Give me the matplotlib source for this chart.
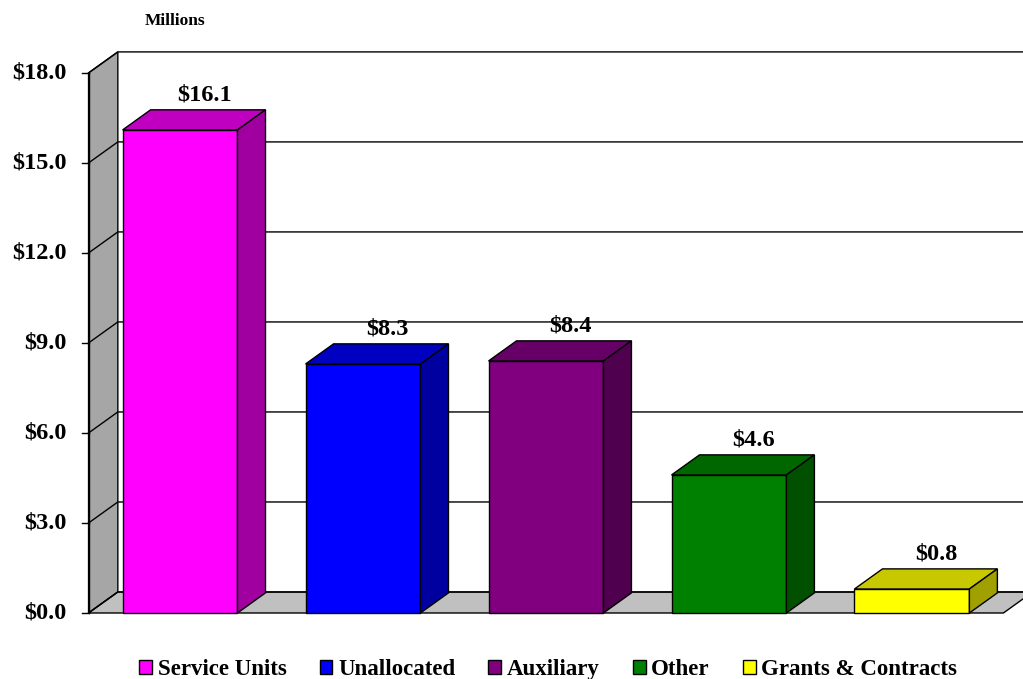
import matplotlib.pyplot as plt
from matplotlib.patches import Polygon

# data
categories = ['Service Units', 'Unallocated', 'Auxiliary', 'Other', 'Grants & Contracts']
values = [16.1, 8.3, 8.4, 4.6, 0.8]
labels = ['$16.1', '$8.3', '$8.4', '$4.6', '$0.8']
yticks = [0, 3, 6, 9, 12, 15, 18]
ytick_labels = ['$0.0', '$3.0', '$6.0', '$9.0', '$12.0', '$15.0', '$18.0']

front_colors = ['#FF00FF', '#0000FF', '#800080', '#008000', '#FFFF00']
top_colors = ['#C000C0', '#0000C0', '#660066', '#006600', '#C8C800']
side_colors = ['#A000A0', '#0000A0', '#4F004F', '#005000', '#A0A000']

plt.rcParams['font.family'] = ['Liberation Serif', 'DejaVu Serif']
plt.rcParams['font.weight'] = 'bold'

fig = plt.figure(figsize=(10.23, 6.79), dpi=100)
ax = fig.add_axes([0, 0, 1, 1])
ax.set_xlim(-0.984, 4.607)
ax.set_ylim(-2.2, 20.43)
ax.axis('off')

# depth offsets for the 3d look
dx, dy = 0.16, 0.7
bdx, bdy = 0.153, 0.67
x0 = -0.5
x1 = len(categories) - 0.5
ymax = yticks[-1]
xr = 4.8  # past the right edge, clipped

# back wall
ax.add_patch(Polygon([(x0 + dx, dy), (xr, dy), (xr, ymax + dy), (x0 + dx, ymax + dy)],
                     closed=True, facecolor='white', edgecolor='none', zorder=1))
# side wall
ax.add_patch(Polygon([(x0, 0), (x0 + dx, dy), (x0 + dx, ymax + dy), (x0, ymax)],
                     closed=True, facecolor='#A6A6A6', edgecolor='black', lw=1, zorder=2))
# floor
ax.add_patch(Polygon([(x0, 0), (x1, 0), (x1 + dx, dy), (x0 + dx, dy)],
                     closed=True, facecolor='#C0C0C0', edgecolor='black', lw=1, zorder=2))

# gridlines on side wall and back wall, plus ticks
for v, lab in zip(yticks, ytick_labels):
    ax.plot([x0, x0 + dx, xr], [v, v + dy, v + dy], color='black', lw=1, zorder=2.5)
    ax.plot([x0 - 0.035, x0], [v, v], color='black', lw=1, zorder=2.5)
    ax.text(x0 - 0.12, v, lab, ha='right', va='center', fontsize=17.5, fontweight='bold')
ax.plot([x0, x0], [0, ymax], color='black', lw=1, zorder=2.5)

# bars
hw = 0.314
for i, v in enumerate(values):
    l, r = i - hw, i + hw
    ax.add_patch(Polygon([(l, 0), (r, 0), (r, v), (l, v)], closed=True,
                         facecolor=front_colors[i], edgecolor='black', lw=1, zorder=4))
    ax.add_patch(Polygon([(l, v), (r, v), (r + bdx, v + bdy), (l + bdx, v + bdy)], closed=True,
                         facecolor=top_colors[i], edgecolor='black', lw=1, zorder=4))
    ax.add_patch(Polygon([(r, 0), (r + bdx, bdy), (r + bdx, v + bdy), (r, v)], closed=True,
                         facecolor=side_colors[i], edgecolor='black', lw=1, zorder=4))
    ax.text(i + bdx - 0.02, v + bdy + 0.15, labels[i], ha='center', va='bottom',
            fontsize=17.5, fontweight='bold', zorder=5)

fig.text(0.171, 0.969, 'Millions', ha='center', va='center', fontsize=12.5, fontweight='bold')

handles = [Polygon([(0, 0)], closed=True, facecolor=c, edgecolor='black', lw=1) for c in front_colors]
fig.legend(handles, categories, loc='center', bbox_to_anchor=(0.536, 0.014), ncol=5,
           frameon=False, handlelength=0.55, handleheight=0.55, handletextpad=0.25,
           columnspacing=1.45, prop={'size': 16.5, 'weight': 'bold'})

fig.savefig('out.png', dpi=100)
